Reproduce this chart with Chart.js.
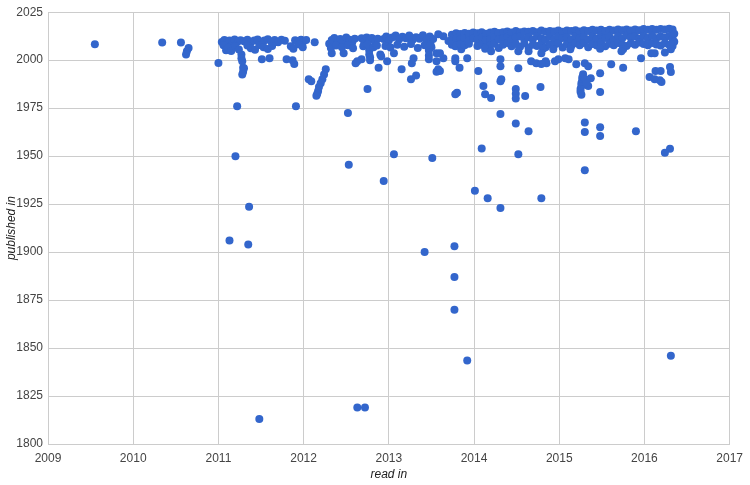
<!DOCTYPE html>
<html>
<head>
<meta charset="utf-8">
<script src="https://cdn.jsdelivr.net/npm/chart.js@4"></script>
<style>
	html, body { margin:0; padding:0; background:#fff; }
	#wrap { position:relative; width:750px; height:485px; }
</style>
</head>
<body>
<div id="wrap"><canvas id="c" width="750" height="485"></canvas></div>
<script>
// [read in, published in] pairs, grouped by the year the book was read
var read2009_2010 = [[2009.55,2008.3],[2010.34,2009.2],[2010.56,2009.2],[2010.65,2006.4],[2010.63,2004.7],[2010.62,2003]];

var read2011 = [
	[2011.0,1998.5],[2011.22,1976],[2011.2,1950],[2011.36,1923.6],[2011.13,1906],[2011.35,1904],[2011.48,1813],[2011.91,1976],
	[2011.27,2003],[2011.27,2001],[2011.28,1999.5],[2011.29,1996],[2011.3,1995.8],[2011.29,1994],[2011.28,1992.5],
	[2011.51,2000.5],[2011.6,2001],[2011.8,2000.5],[2011.89,1998],[2011.87,2000],
	[2011.04,2009.5],[2011.07,2010.5],[2011.1,2009],[2011.13,2010.2],[2011.16,2009.6],[2011.19,2010.8],[2011.23,2009.8],[2011.26,2010.4],
	[2011.3,2009.9],[2011.34,2010.6],[2011.38,2009.4],[2011.42,2010.2],[2011.46,2010.8],[2011.5,2009.6],[2011.54,2010.3],[2011.58,2010.9],
	[2011.62,2009.7],[2011.66,2010.5],[2011.7,2009.4],[2011.74,2010.6],[2011.78,2010.1],[2011.9,2010.4],[2011.93,2009.2],[2011.97,2010.7],
	[2012.0,2009.8],[2012.03,2010.5],
	[2011.06,2007.8],[2011.09,2005.2],[2011.12,2006.5],[2011.15,2004.8],[2011.2,2007.2],[2011.24,2005.6],[2011.34,2007.6],[2011.38,2006.2],
	[2011.43,2005.4],[2011.48,2007.9],[2011.53,2006.8],[2011.58,2005.8],[2011.63,2007.4],[2011.85,2007.2],[2011.88,2005.9],[2011.95,2008.2],[2011.99,2006.8]
];

var read2012 = [
	[2012.13,2009.4],[2012.06,1990],[2012.09,1989],
	[2012.26,1995.3],[2012.24,1992.5],[2012.22,1990],[2012.2,1988],[2012.18,1986],[2012.17,1984],[2012.16,1982.5],[2012.15,1981.5],
	[2012.52,1972.5],[2012.53,1945.5],[2012.94,1937],[2012.63,1819],[2012.72,1819],[2012.75,1985],
	[2012.33,2003.6],[2012.47,2003.6],[2012.63,1999.5],[2012.61,1998.4],[2012.68,2000.5],[2012.9,2003],[2012.91,2002],[2012.98,1999.5],
	[2012.88,1996],[2012.77,2005],[2012.77,2003],[2012.78,2001.5],[2012.78,2000],
	[2012.3,2008.5],[2012.33,2010.5],[2012.36,2011.6],[2012.4,2009.4],[2012.43,2011],[2012.46,2010],[2012.5,2011.8],[2012.54,2010.6],
	[2012.57,2009.2],[2012.6,2011.2],[2012.32,2006.4],[2012.38,2007.6],[2012.45,2006.8],[2012.52,2007.8],[2012.58,2006.2],
	[2012.68,2011.4],[2012.71,2009.6],[2012.74,2011.8],[2012.77,2010.4],[2012.8,2011.6],[2012.84,2009.8],[2012.87,2011.2],
	[2012.7,2007.2],[2012.75,2008.2],[2012.82,2006.8],[2012.86,2007.6],
	[2012.94,2011],[2012.97,2012.4]
];

var read2013 = [
	[2013.0,2010.2],[2013.04,2011.8],[2013.08,2012.8],[2013.12,2010.8],[2013.16,2012.2],[2013.2,2011.4],[2013.24,2012.9],[2013.28,2010.6],
	[2013.32,2012],[2013.36,2011.2],[2013.4,2013],[2013.44,2010.4],[2013.48,2012.4],[2013.52,2011],
	[2012.96,2007.4],[2013.02,2006.6],[2013.1,2008],[2013.18,2007],[2013.26,2008.4],[2013.34,2006.4],[2013.42,2007.8],[2013.5,2006.8],
	[2013.06,2003.6],[2013.15,1995.3],[2013.26,1990],[2013.32,1992],[2013.27,1998.4],[2013.29,2001],[2013.47,2005],[2013.47,2002.5],
	[2013.47,2000.5],[2013.56,2003.6],[2013.56,1999.5],[2013.56,1994],
	[2013.06,1951],[2013.51,1949],[2013.42,1900],[2013.77,1903],[2013.77,1887],[2013.77,1870],[2013.92,1843.5],
	[2013.58,2013.5],[2013.64,2012.5],[2013.49,2008],[2013.6,2003.6],[2013.64,2001],[2013.58,1995.3],[2013.6,1994.3],[2013.7,2010],
	[2013.78,2001],[2013.78,1999.5],[2013.83,1996],[2013.92,2001],[2013.8,1983],[2013.78,1982.3],[2013.78,2007.3],[2013.85,2005.7],
	[2013.74,2013.2],[2013.74,2010.4],[2013.74,2008],[2013.79,2014],[2013.79,2011.2],[2013.79,2007.6],
	[2013.84,2013.6],[2013.84,2010.8],[2013.84,2008.4],[2013.89,2014.2],[2013.89,2011.6],[2013.89,2007.8],
	[2013.94,2013.8],[2013.94,2010.2],[2013.94,2008.6],[2013.99,2014.4],[2013.99,2011.4]
];

var read2014 = [
	[2014.04,2014],[2014.04,2010.6],[2014.04,2007.4],[2014.09,2014.6],[2014.09,2011.8],[2014.09,2008.2],
	[2014.14,2013.8],[2014.14,2010.4],[2014.14,2006.8],[2014.19,2014.4],[2014.19,2011],[2014.19,2007.8],
	[2014.24,2014.8],[2014.24,2012],[2014.24,2008.6],[2014.29,2014.2],[2014.29,2010.8],[2014.29,2006.4],
	[2014.34,2014.6],[2014.34,2011.4],[2014.34,2008],[2014.39,2015],[2014.39,2012.2],[2014.39,2009],
	[2014.44,2014.4],[2014.44,2010.6],[2014.44,2007.2],[2014.49,2015.2],[2014.49,2011.8],[2014.49,2008.4],
	[2014.54,2014.6],[2014.54,2012.4],[2014.54,2007],[2014.59,2015],[2014.59,2011],[2014.59,2008.8],
	[2014.64,2014.8],[2014.64,2012],[2014.64,2006.6],[2014.69,2015.2],[2014.69,2010.8],[2014.69,2008],
	[2014.74,2014.6],[2014.74,2012.6],[2014.74,2007.4],[2014.79,2015.4],[2014.79,2011.4],[2014.79,2008.6],
	[2014.84,2014.8],[2014.84,2010.6],[2014.84,2006.8],[2014.89,2015.2],[2014.89,2012.2],[2014.89,2008.2],
	[2014.94,2015],[2014.94,2011],[2014.94,2007.6],[2014.99,2015.4],[2014.99,2012.4],[2014.99,2008.8],
	[2014.05,1994.3],[2014.11,1986.5],[2014.13,1982.3],[2014.2,1980.3],[2014.31,1989],[2014.32,1990.1],[2014.31,1996.9],[2014.31,2000.5],
	[2014.49,1985],[2014.49,1982.5],[2014.49,1980],[2014.6,1981.3],[2014.52,1995.8],[2014.67,1999.5],[2014.73,1998.4],[2014.84,1999.5],
	[2014.85,1998.4],[2014.78,1986],[2014.95,1999.5],[2014.99,2000.5],[2014.81,2006],[2014.79,2003.6],[2014.79,1998],[2014.93,2005.7],
	[2014.52,2004.7],[2014.64,2004.7],[2014.13,2006],[2014.2,2004.7],
	[2014.01,1932],[2014.09,1954],[2014.16,1928],[2014.31,1923],[2014.52,1951],[2014.64,1963],[2014.79,1928],[2014.31,1972],[2014.49,1967]
];

var read2015 = [
	[2015.04,2014.8],[2015.04,2011.6],[2015.04,2006.6],[2015.09,2015.4],[2015.09,2012],[2015.09,2008.4],
	[2015.14,2015.2],[2015.14,2010.8],[2015.14,2007.2],[2015.19,2015.6],[2015.19,2012.6],[2015.19,2008.8],
	[2015.24,2015],[2015.24,2011.4],[2015.24,2007.8],[2015.29,2015.6],[2015.29,2012.2],[2015.29,2009],
	[2015.34,2015.2],[2015.34,2010.6],[2015.34,2006.8],[2015.39,2015.8],[2015.39,2012.4],[2015.39,2008.4],
	[2015.44,2015.4],[2015.44,2011.2],[2015.44,2007.6],[2015.49,2015.8],[2015.49,2012.8],[2015.49,2009.2],
	[2015.54,2015.2],[2015.54,2011.6],[2015.54,2007.2],[2015.59,2015.8],[2015.59,2012.2],[2015.59,2008.6],
	[2015.64,2015.4],[2015.64,2010.8],[2015.64,2007.8],[2015.69,2016],[2015.69,2012.6],[2015.69,2009],
	[2015.74,2015.6],[2015.74,2011.4],[2015.74,2008],[2015.79,2016],[2015.79,2012.8],[2015.79,2007.4],
	[2015.84,2015.4],[2015.84,2011.8],[2015.84,2008.8],[2015.89,2016],[2015.89,2012.4],[2015.89,2008],
	[2015.94,2015.6],[2015.94,2011.2],[2015.94,2009.2],[2015.99,2016.2],[2015.99,2012.6],[2015.99,2008.4],
	[2015.07,2001],[2015.11,2000.5],[2015.2,1997.9],[2015.3,1998.4],[2015.34,1996.9],[2015.48,1993.2],[2015.61,1997.9],[2015.75,1996],
	[2015.96,2001],[2015.75,2005.7],[2015.73,2004.7],[2015.48,2006],[2015.13,2005.7],
	[2015.28,1992.7],[2015.27,1991],[2015.27,1989.5],[2015.26,1988],[2015.26,1986.5],[2015.25,1985],[2015.25,1983.5],[2015.26,1982],
	[2015.3,1990],[2015.34,1986.5],[2015.37,1990.6],[2015.48,1983.4],[2015.32,1988],
	[2015.3,1942.6],[2015.3,1967.5],[2015.3,1962.6],[2015.48,1965],[2015.48,1960.5],[2015.9,1963]
];

var read2016 = [
	[2016.04,2015.8],[2016.04,2011.6],[2016.04,2007.8],[2016.09,2016.2],[2016.09,2012.8],[2016.09,2009],
	[2016.14,2015.8],[2016.14,2011.4],[2016.14,2008.2],[2016.19,2016.2],[2016.19,2012.4],[2016.19,2007.6],
	[2016.24,2016],[2016.24,2011.8],[2016.24,2008.8],[2016.29,2016.4],[2016.29,2012.6],[2016.29,2008],
	[2016.33,2016],[2016.33,2011.2],[2016.33,2007.4],[2016.35,2013.8],[2016.35,2009.6],
	[2016.08,2003.6],[2016.12,2003.6],[2016.24,2004],[2016.31,2008.3],[2016.31,2005.7],
	[2016.06,1991.2],[2016.12,1990.1],[2016.18,1989.6],[2016.2,1988.6],[2016.13,1994.3],[2016.19,1994.3],[2016.3,1996.4],[2016.31,1993.8],
	[2016.3,1953.8],[2016.24,1951.7],[2016.31,1846]
];

var xTicks = [2009, 2017, 1];   // min, max, step
var yTicks = [1800, 2025, 25];

var points = [];
[read2009_2010, read2011, read2012, read2013, read2014, read2015, read2016].forEach(function(group){
	group.forEach(function(p){ points.push({ x: p[0], y: p[1] }); });
});

var tickFont  = { family: '"Liberation Sans", Arial, sans-serif', size: 12 },
	titleFont = { family: '"Liberation Sans", Arial, sans-serif', size: 12, style: 'italic' };

new Chart(document.getElementById('c').getContext('2d'), {
	type: 'scatter',
	data: {
		datasets: [{
			data: points,
			backgroundColor: '#3366cc',
			borderWidth: 0,
			pointRadius: 4,
			pointHoverRadius: 4
		}]
	},
	options: {
		responsive: false,
		animation: false,
		layout: { padding: { top: 11, right: 16, left: 0, bottom: 0 } },
		plugins: { legend: { display: false }, tooltip: { enabled: false } },
		scales: {
			x: {
				type: 'linear',
				min: xTicks[0], max: xTicks[1],
				afterFit: function(s){ s.height = 41; },
				grid: { color: '#cccccc', drawTicks: false },
				border: { color: '#cccccc' },
				ticks: { stepSize: xTicks[2], color: '#444', font: tickFont, padding: 7, maxRotation: 0,
					callback: function(v){ return String(v); } },
				title: { display: true, text: 'read in', color: '#222', font: titleFont, padding: { top: 0, bottom: 3 } }
			},
			y: {
				type: 'linear',
				min: yTicks[0], max: yTicks[1],
				afterFit: function(s){ s.width = 48; },
				grid: { color: '#cccccc', drawTicks: false },
				border: { color: '#cccccc' },
				ticks: { stepSize: yTicks[2], color: '#444', font: tickFont, padding: 5,
					callback: function(v){ return String(v); } },
				title: { display: true, text: 'published in', color: '#222', font: titleFont, padding: { top: 4, bottom: 0 } }
			}
		}
	}
});
</script>
</body>
</html>
